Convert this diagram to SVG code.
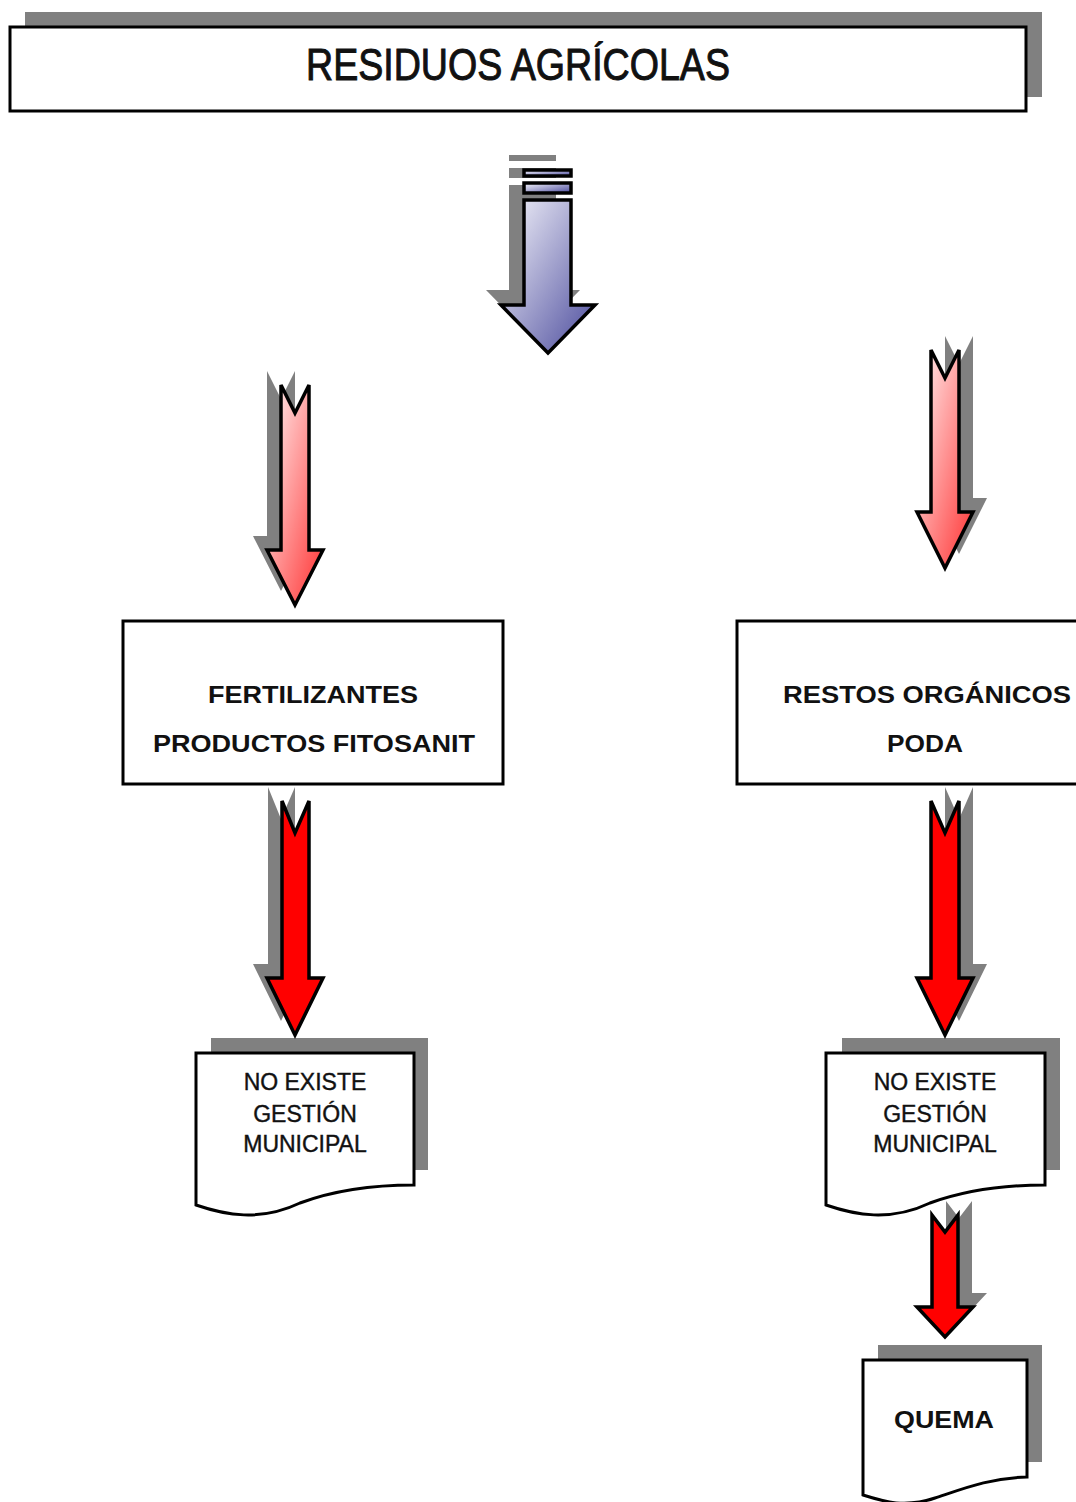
<svg xmlns="http://www.w3.org/2000/svg" width="1076" height="1502" viewBox="0 0 1076 1502">
<defs>
<linearGradient id="gBlue" x1="0" y1="0" x2="1" y2="1">
<stop offset="0" stop-color="#f6f6fc"/>
<stop offset="1" stop-color="#4a4a9c"/>
</linearGradient>
<linearGradient id="gPink" x1="0" y1="0" x2="1" y2="1">
<stop offset="0" stop-color="#fff4f4"/>
<stop offset="1" stop-color="#ff3030"/>
</linearGradient>
<style>
.sh{fill:#808080;stroke:none}
.box{fill:#fff;stroke:#000;stroke-width:3}
.ar{stroke:#000;stroke-width:3.5;stroke-linejoin:miter}
.red{fill:#ff0000}
.t{font-family:"Liberation Sans",Arial,sans-serif;fill:#111;text-anchor:middle}
.b{font-weight:bold;font-size:24px}
.d{font-size:23px;stroke:#111;stroke-width:0.4}
</style>
</defs>
<rect width="1076" height="1502" fill="#fff"/>

<g id="title">
<rect class="sh" x="25" y="12" width="1017" height="85"/>
<rect class="box" x="10" y="27" width="1016" height="84"/>
<text class="t" x="518" y="80" font-size="45" stroke="#111" stroke-width="1" textLength="424" lengthAdjust="spacingAndGlyphs">RESIDUOS AGRÍCOLAS</text>
</g>

<g id="fertilizantes">
<rect class="box" x="123" y="621" width="380" height="163"/>
<text class="t b" x="313" y="703" textLength="210" lengthAdjust="spacingAndGlyphs">FERTILIZANTES</text>
<text class="t b" x="314" y="752" textLength="322" lengthAdjust="spacingAndGlyphs">PRODUCTOS FITOSANIT</text>
</g>

<g id="restos">
<rect class="box" x="737" y="621" width="360" height="163"/>
<text class="t b" x="927" y="703" textLength="288" lengthAdjust="spacingAndGlyphs">RESTOS ORGÁNICOS</text>
<text class="t b" x="925" y="752" textLength="76" lengthAdjust="spacingAndGlyphs">PODA</text>
</g>

<g id="doc-left">
<rect class="sh" x="211" y="1038" width="217" height="132"/>
<path class="box" d="M196,1053 L414,1053 L414,1185 C370,1185 335,1190 300,1203 C260,1222 225,1215 196,1205 Z"/>
<text class="t d" x="305" y="1090">NO EXISTE</text>
<text class="t d" x="305" y="1122">GESTIÓN</text>
<text class="t d" x="305" y="1152">MUNICIPAL</text>
</g>

<g id="doc-right">
<rect class="sh" x="842" y="1038" width="218" height="132"/>
<path class="box" d="M826,1053 L1045,1053 L1045,1185 C1001,1185 966,1190 930,1203 C890,1222 855,1215 826,1205 Z"/>
<text class="t d" x="935" y="1090">NO EXISTE</text>
<text class="t d" x="935" y="1122">GESTIÓN</text>
<text class="t d" x="935" y="1152">MUNICIPAL</text>
</g>

<g id="quema">
<rect class="sh" x="878" y="1345" width="164" height="117"/>
<path class="box" d="M863,1360 L1027,1360 L1027,1477 C990,1478 965,1488 935,1498 C905,1508 885,1502 863,1495 Z"/>
<text class="t b" x="944" y="1428" font-size="26" textLength="100" lengthAdjust="spacingAndGlyphs">QUEMA</text>
</g>

<g id="connectors">
<!-- blue arrow -->
<g transform="translate(-15,-15)" class="sh">
<rect x="524" y="170" width="47" height="6"/>
<rect x="524" y="183" width="47" height="10"/>
<path d="M524,200 L571,200 L571,305 L595,305 L548,353 L501,305 L524,305 Z"/>
</g>
<rect class="ar" fill="url(#gBlue)" x="524" y="170" width="47" height="6"/>
<rect class="ar" fill="url(#gBlue)" x="524" y="183" width="47" height="10"/>
<path class="ar" fill="url(#gBlue)" d="M524,200 L571,200 L571,305 L595,305 L548,353 L501,305 L524,305 Z"/>

<!-- left pink arrow -->
<path class="sh" transform="translate(-14,-14)" d="M281,385 L295,413 L309,385 L309,550 L323,550 L295,605 L267,550 L281,550 Z"/>
<path class="ar" fill="url(#gPink)" d="M281,385 L295,413 L309,385 L309,550 L323,550 L295,605 L267,550 L281,550 Z"/>

<!-- right pink arrow -->
<path class="sh" transform="translate(14,-14)" d="M931,350 L945,378 L959,350 L959,512 L973,512 L945,568 L917,512 L931,512 Z"/>
<path class="ar" fill="url(#gPink)" d="M931,350 L945,378 L959,350 L959,512 L973,512 L945,568 L917,512 L931,512 Z"/>

<!-- left red arrow -->
<path class="sh" transform="translate(-14,-14)" d="M282,801 L295,833 L309,801 L309,978 L323,978 L295,1035 L267,978 L282,978 Z"/>
<path class="ar red" d="M282,801 L295,833 L309,801 L309,978 L323,978 L295,1035 L267,978 L282,978 Z"/>

<!-- right red arrow -->
<path class="sh" transform="translate(14,-14)" d="M931,801 L945,833 L959,801 L959,978 L973,978 L945,1035 L917,978 L931,978 Z"/>
<path class="ar red" d="M931,801 L945,833 L959,801 L959,978 L973,978 L945,1035 L917,978 L931,978 Z"/>

<!-- small red arrow -->
<path class="sh" transform="translate(14,-14)" d="M932,1215 L945,1232 L958,1215 L958,1307 L973,1307 L945,1337 L917,1307 L932,1307 Z"/>
<path class="ar red" d="M932,1215 L945,1232 L958,1215 L958,1307 L973,1307 L945,1337 L917,1307 L932,1307 Z"/>
</g>
</svg>
